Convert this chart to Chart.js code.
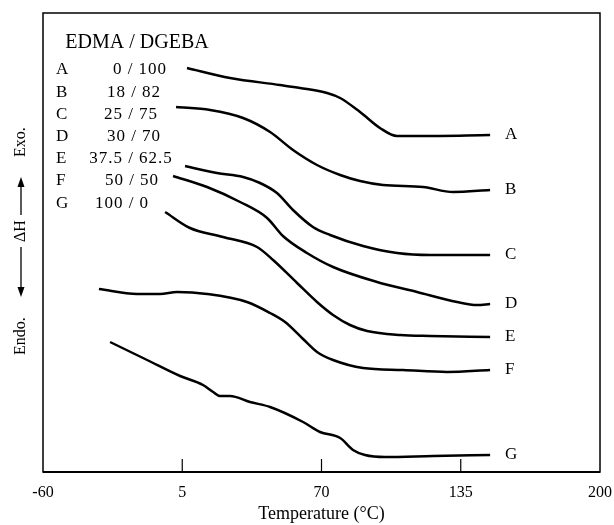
<!DOCTYPE html>
<html>
<head>
<meta charset="utf-8">
<script src="https://cdn.jsdelivr.net/npm/chart.js@4.4.0/dist/chart.umd.min.js"></script>
<style>
  html, body { margin: 0; padding: 0; background: #fff; }
  #wrap { width: 614px; height: 525px; }
</style>
</head>
<body>
<div id="wrap"><canvas id="myChart" width="614" height="525"></canvas></div>
<script>
// sample names and EDMA/DGEBA ratios
const curveNames = ['A', 'B', 'C', 'D', 'E', 'F', 'G'];
const ratios = ['0 / 100', '18 / 82', '25 / 75', '30 / 70', '37.5 / 62.5', '50 / 50', '100 / 0'];
const xTicks = [-60, 5, 70, 135, 200];

// temperatures (°C) and heat flow (arbitrary units)
const tA = [7.2, 27.3, 50.6, 60.0, 72.6, 78.7, 88.0, 97.3, 105.3, 116.0, 148.7];
const hA = [404, 394, 387, 384, 379, 374, 360, 344, 336, 336, 337];
const tB = [2.1, 18.0, 33.4, 46.0, 56.7, 67.9, 78.7, 88.0, 98.7, 117.4, 131.4, 148.7];
const hB = [365, 362, 354, 340, 322, 307, 297, 291, 287, 285, 280, 282];
const tC = [6.3, 21.2, 33.4, 41.3, 49.2, 56.7, 66.0, 74.0, 89.4, 105.3, 120.7, 148.7];
const hC = [306, 299, 295, 289, 279, 262, 245, 237, 226, 219, 217, 217];
const tD = [0.7, 16.6, 32.0, 44.6, 52.0, 63.2, 75.4, 95.9, 114.6, 133.3, 142.6, 148.7];
const hD = [296, 285, 270, 254, 236, 219, 205, 190, 180, 170, 167, 168];
const tE = [-3.0, 8.6, 24.0, 39.9, 47.4, 58.6, 67.9, 75.4, 83.3, 91.3, 106.7, 120.7, 148.7];
const hE = [260, 244, 235, 225, 212, 189, 170, 157, 147, 141, 137, 136, 135];
const tF = [-33.9, -16.1, -5.4, 2.6, 16.6, 35.2, 46.0, 53.0, 61.4, 67.9, 75.4, 89.4, 108.1, 128.6, 148.7];
const hF = [183, 178, 178, 180, 178, 170, 159, 150, 133, 120, 112, 104, 102, 100, 102];
const tG = [-28.7, -11.4, 4.0, 14.7, 19.4, 22.6, 27.3, 36.6, 46.0, 61.4, 69.3, 78.7, 84.7, 90.3, 99.7, 122.1, 148.7];
const hG = [130, 112, 96, 87, 80, 76, 76, 70, 65, 50, 40, 34, 22, 17, 15, 16, 17];

const temps = [tA, tB, tC, tD, tE, tF, tG];
const flows = [hA, hB, hC, hD, hE, hF, hG];

const serif = '"Liberation Serif", "DejaVu Serif", serif';

const datasets = curveNames.map((name, i) => ({
    label: name,
    data: temps[i].map((t, j) => ({ x: t, y: flows[i][j] })),
    borderColor: '#000',
    borderWidth: 2.5,
    pointRadius: 0,
    cubicInterpolationMode: 'monotone',
    fill: false
}));

function arrow(c, from, to) {
    // horizontal arrow in the rotated frame, head at "to"
    const dir = Math.sign(to - from);
    c.beginPath();
    c.moveTo(from, 0);
    c.lineTo(to - dir * 8, 0);
    c.stroke();
    c.beginPath();
    c.moveTo(to, 0);
    c.lineTo(to - dir * 10, -3.5);
    c.lineTo(to - dir * 10, 3.5);
    c.closePath();
    c.fill();
}

// box, inner ticks, curve end labels, y title and the composition table
const decor = {
    id: 'decor',
    afterDraw(chart) {
        const c = chart.ctx;
        const a = chart.chartArea;
        const xs = chart.scales.x;
        c.save();
        c.strokeStyle = '#000';
        c.lineWidth = 1.5;
        c.strokeRect(a.left, a.top, a.right - a.left, a.bottom - a.top);
        c.lineWidth = 2;
        c.beginPath();
        c.moveTo(a.left, a.bottom);
        c.lineTo(a.right, a.bottom);
        c.stroke();
        c.lineWidth = 1.2;
        xTicks.slice(1, -1).forEach(v => {
            const px = xs.getPixelForValue(v);
            c.beginPath();
            c.moveTo(px, a.bottom);
            c.lineTo(px, a.bottom - 13);
            c.stroke();
        });

        c.fillStyle = '#000';
        c.font = '17px ' + serif;
        c.textBaseline = 'middle';
        c.textAlign = 'left';
        chart.data.datasets.forEach((ds, i) => {
            const pts = chart.getDatasetMeta(i).data;
            const last = pts[pts.length - 1];
            c.fillText(curveNames[i], last.x + 15, last.y);
        });

        c.textAlign = 'center';
        c.font = '20px ' + serif;
        c.fillText('EDMA / DGEBA', 137, 43);
        c.font = '17px ' + serif;
        const centers = [140, 134, 131, 134, 131, 132, 122];
        curveNames.forEach((n, i) => {
            const y = 70 + i * 22.2;
            c.letterSpacing = '0px';
            c.textAlign = 'left';
            c.fillText(n, 56, y);
            c.letterSpacing = '1px';
            c.textAlign = 'center';
            c.fillText(ratios[i], centers[i], y);
        });
        c.letterSpacing = '0px';

        // y title: Endo. <-- ΔH --> Exo.
        c.translate(21, 243);
        c.rotate(-Math.PI / 2);
        c.font = '16px ' + serif;
        c.textAlign = 'left';
        c.fillText('Endo.', -112, 0);
        c.fillText('ΔH', 1, 0);
        c.fillText('Exo.', 86, 0);
        c.lineWidth = 1.3;
        arrow(c, -4, -54);
        arrow(c, 28, 66);
        c.restore();
    }
};

const ctx = document.getElementById('myChart');
const myChart = new Chart(ctx, {
    type: 'line',
    data: { datasets },
    options: {
        responsive: false,
        animation: false,
        layout: { padding: { top: 13, right: 14, left: 0, bottom: 0 } },
        plugins: {
            legend: { display: false },
            tooltip: { enabled: false }
        },
        scales: {
            x: {
                type: 'linear',
                min: -60,
                max: 200,
                afterBuildTicks: s => { s.ticks = xTicks.map(v => ({ value: v })); },
                afterFit: s => { s.height = 53; s.paddingLeft = 0; s.paddingRight = 0; },
                grid: { display: false, drawTicks: false },
                border: { display: false },
                ticks: { color: '#000', font: { family: serif, size: 16 }, padding: 11 },
                title: {
                    display: true,
                    text: 'Temperature (°C)',
                    color: '#000',
                    font: { family: serif, size: 18 },
                    padding: { top: 1, bottom: 0 }
                }
            },
            y: {
                min: 0,
                max: 459,
                afterFit: s => { s.width = 43; s.paddingTop = 0; s.paddingBottom = 0; },
                grid: { display: false, drawTicks: false },
                border: { display: false },
                ticks: { display: false },
                title: { display: false }
            }
        }
    },
    plugins: [decor]
});
</script>
</body>
</html>
